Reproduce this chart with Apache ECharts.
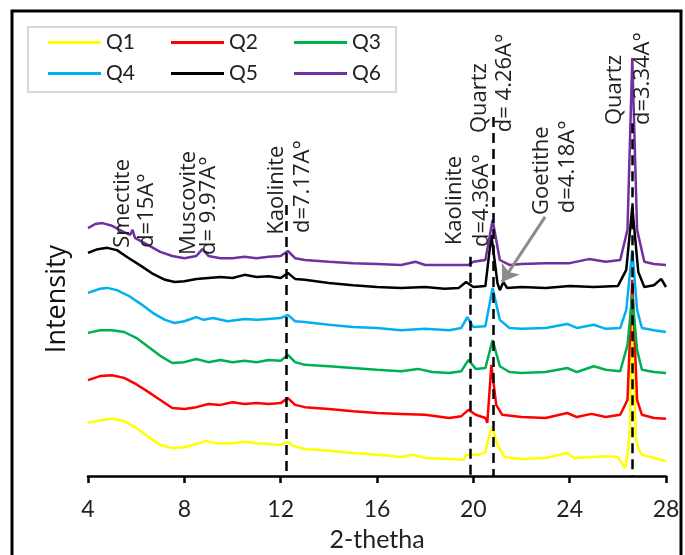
<!DOCTYPE html>
<html>
<head>
<meta charset="utf-8">
<script src="https://cdn.jsdelivr.net/npm/echarts@6/dist/echarts.min.js"></script>
<style>html,body{margin:0;padding:0;background:#fff;}#c{width:685px;height:555px;}</style>
</head>
<body>
<div id="c"></div>
<script>
var xTicks = [4, 8, 12, 16, 20, 24, 28];
var seriesNames = ['Q1', 'Q2', 'Q3', 'Q4', 'Q5', 'Q6'];
var seriesColors = ['#FFFF00', '#FF0000', '#00B050', '#00B0F0', '#000000', '#7030A0'];

var q1 = [[4,11.8],[4.5,12.4],[5,12.7],[5.5,12.2],[6,10.7],[6.5,8.7],[7,6.9],[7.5,6.2],[8,6.4],[8.5,7.1],[8.9,7.8],[9.3,7.3],[10,7.3],[10.5,7.6],[11,7.3],[11.5,7.1],[12,6.9],[12.3,7.6],[12.5,6.7],[13,6.0],[14,5.6],[15,5.1],[16,4.7],[17,4.2],[17.5,4.7],[18,4.0],[19,3.8],[19.6,3.6],[19.7,4.7],[20.2,4.7],[20.5,5.3],[20.7,9.8],[20.8,10.9],[21.0,6.9],[21.3,4.2],[22,3.8],[23,4.0],[23.9,5.1],[24.2,4.0],[25,4.2],[25.5,4.4],[26.0,4.2],[26.3,1.8],[26.4,4.7],[26.5,10],[26.6,39],[26.75,8],[26.85,6.2],[27,4.7],[27.5,4.0],[28,3.3]];
var q2 = [[4,21.3],[4.5,22.2],[5,22.4],[5.5,21.8],[6,20.4],[6.5,18.7],[7,16.9],[7.5,15.1],[8,14.9],[8.5,15.3],[9,16.0],[9.5,15.8],[10,16.4],[10.5,16.0],[11,16.2],[11.5,16.0],[12,16.2],[12.3,17.3],[12.6,15.8],[13,15.3],[14,14.9],[15,14.4],[16,14.0],[17,13.8],[18,13.6],[19,12.9],[19.5,13.3],[19.8,14.7],[20.1,13.6],[20.5,12.9],[20.58,11.8],[20.75,24.7],[20.95,15.8],[21.2,13.6],[22,13.1],[23,12.9],[23.9,14.0],[24.3,13.1],[24.9,13.8],[25.5,13.1],[26.1,13.6],[26.4,16.9],[26.6,43.6],[26.8,16.9],[27,13.6],[27.5,12.9],[28,12.7]];
var q3 = [[4,31.8],[4.5,32.4],[5,32.4],[5.5,32.0],[6,30.7],[6.5,28.7],[7,26.7],[7.5,25.1],[8,25.3],[8.5,26.0],[9,25.3],[9.5,25.8],[10,25.3],[10.5,25.6],[11,25.3],[11.5,25.8],[12,25.6],[12.3,26.9],[12.6,25.3],[13,24.7],[14,24.4],[15,24.0],[16,23.6],[17,23.3],[17.7,23.8],[18.3,23.1],[19,22.9],[19.5,23.3],[19.8,25.8],[20.1,23.8],[20.5,24.0],[20.8,30.2],[21.1,24.4],[21.5,23.1],[22,22.9],[23,23.1],[23.9,24.0],[24.3,23.1],[25,24.4],[25.5,23.6],[26.1,23.3],[26.4,29.1],[26.6,40.2],[26.8,28.0],[27,23.6],[27.5,23.1],[28,22.9]];
var q4 = [[4,40.7],[4.5,41.6],[4.8,41.8],[5.2,41.3],[5.7,40.0],[6.2,38.2],[6.7,36.2],[7.2,34.7],[7.6,34.0],[8,34.4],[8.5,35.3],[8.8,34.7],[9.2,35.1],[9.8,34.4],[10.5,34.9],[11,34.7],[11.5,34.9],[12,35.1],[12.3,35.8],[12.6,34.4],[13,34.2],[14,33.6],[15,33.1],[16,32.9],[17,32.4],[18,32.7],[19,32.4],[19.5,32.9],[19.75,35.3],[20.0,33.1],[20.5,33.3],[20.8,41.8],[21.1,34.7],[21.5,32.9],[22,32.7],[23,32.9],[23.9,33.8],[24.3,32.9],[25,33.6],[25.5,32.7],[26.1,32.9],[26.35,36.9],[26.6,50.2],[26.8,36.9],[27,32.9],[27.5,32.4],[28,32.0]];
var q5 = [[4,49.6],[4.4,50.4],[4.8,50.7],[5.2,50.2],[5.7,48.4],[6.2,46.7],[6.7,44.9],[7.2,43.6],[7.6,43.1],[8,43.3],[8.5,43.8],[9,44.0],[9.5,44.2],[10,44.0],[10.5,44.7],[11,44.2],[11.5,44.4],[12,44.0],[12.3,45.1],[12.6,43.8],[13,43.6],[14,42.9],[15,42.4],[16,42.0],[17,41.8],[18,42.0],[18.8,41.6],[19.4,41.8],[19.7,43.1],[20.0,42.0],[20.5,42.2],[20.75,53.6],[21.0,42.9],[21.1,41.3],[21.25,43.1],[21.4,41.8],[22,42.0],[23,41.8],[24,42.2],[25,42.0],[26.0,42.2],[26.35,45.8],[26.6,59.8],[26.85,45.3],[27.1,42.0],[27.5,42.4],[27.8,43.8],[28,42.0]];
var q6 = [[4,55.1],[4.3,56.0],[4.6,56.2],[5.0,55.6],[5.5,54.2],[5.75,53.6],[5.85,54.7],[5.95,52.9],[6.5,51.3],[7,49.8],[7.5,48.9],[8,48.4],[8.5,48.9],[8.75,50.4],[9.0,48.9],[9.5,48.4],[10,48.4],[10.5,48.7],[11,48.4],[11.5,48.7],[12,48.9],[12.3,50.0],[12.6,48.4],[13,48.0],[14,47.6],[15,47.3],[16,47.1],[17,46.9],[17.6,47.6],[18.0,46.9],[19.8,46.9],[20.0,47.6],[20.5,48.0],[20.8,56.9],[21.1,48.0],[21.5,46.9],[22,47.1],[23,47.3],[24,47.3],[24.8,48.2],[25.5,47.6],[26.1,48.0],[26.4,54.7],[26.6,92.9],[26.8,54.7],[27.1,47.6],[27.5,47.1],[28,46.9]];
var seriesData = [q1, q2, q3, q4, q5, q6];

// dashed reference lines: [x, top value]
var refLines = [[12.25, 60.2], [19.86, 48.7], [20.82, 79.8], [26.6, 78.4]];
// arrow from Goetithe label to peak: [[x1,y1],[x2,y2]]
var arrowLine = [[22.98, 57.6], [21.19, 43.1]];
// annotations: text, x, y (text start, reading upward)
var annoTexts = ['Smectite', 'd=15A°', 'Muscovite', 'd= 9.97A°', 'Kaolinite', 'd=7.17A°', 'Kaolinite', 'd=4.36A°', 'Quartz', 'd= 4.26A°', 'Goetithe', 'd=4.18A°', 'Quartz', 'd=3.34A°'];
var annoX = [5.45, 6.45, 8.19, 9.02, 11.85, 12.93, 19.24, 20.36, 20.28, 21.32, 22.85, 23.93, 25.89, 27.05];
var annoY = [50.7, 50.7, 49.1, 49.1, 53.6, 54.0, 51.3, 50.9, 76.2, 76.4, 58.0, 58.4, 78.0, 78.0];
var yTitle = 'Intensity';

var chart = echarts.init(document.getElementById('c'), null, {renderer: 'canvas'});

var series = seriesNames.map(function (n, i) {
  return {
    name: n, type: 'line', data: seriesData[i], showSymbol: false, symbol: 'none',
    lineStyle: {color: seriesColors[i], width: 2.5}, itemStyle: {color: seriesColors[i]},
    z: 2 + i, silent: true
  };
});
series[5].markLine = {
  silent: true, symbol: ['none', 'none'], label: {show: false}, animation: false, z: 20,
  lineStyle: {color: '#000', width: 2.5, type: [10, 6]},
  data: refLines.map(function (r) { return [{coord: [r[0], r[1]]}, {coord: [r[0], 0]}]; })
};
series[4].markLine = {
  silent: true, symbol: ['none', 'arrow'], symbolSize: 16, label: {show: false}, animation: false, z: 20,
  lineStyle: {color: '#8c8c8c', width: 3, type: 'solid'},
  data: [[{coord: arrowLine[0]}, {coord: arrowLine[1]}]]
};

var narrow = 'Lato, "Liberation Sans", sans-serif';

chart.setOption({
  animation: false,
  backgroundColor: '#fff',
  grid: {left: 88, right: 19, top: 26, bottom: 79, outerBoundsMode: 'none', containLabel: false},
  legend: {
    left: 48, top: 27, width: 380, padding: 0, itemGap: 0,
    itemWidth: 53, itemHeight: 3, icon: 'rect',
    data: seriesNames,
    textStyle: {fontFamily: narrow, fontSize: 21, color: '#222', width: 65, lineHeight: 31}
  },
  xAxis: {
    type: 'value', min: 4, max: 28, interval: 4,
    name: '2-thetha', nameLocation: 'middle', nameGap: 51,
    nameTextStyle: {fontFamily: narrow, fontSize: 25, color: '#222'},
    axisLine: {show: true, lineStyle: {color: '#000', width: 2.5}},
    axisTick: {show: true, length: 7, lineStyle: {color: '#000', width: 2.5}},
    axisLabel: {fontFamily: narrow, fontSize: 23, color: '#222', margin: 22,
      formatter: function (v) { return xTicks.indexOf(v) >= 0 ? String(v) : ''; }},
    splitLine: {show: false}
  },
  yAxis: {
    type: 'value', min: 0, max: 100,
    axisLine: {show: false}, axisTick: {show: false}, axisLabel: {show: false}, splitLine: {show: false}
  },
  series: series
});

var graphics = [
  {type: 'rect', shape: {x: 12, y: 11, width: 669, height: 560}, style: {fill: 'none', stroke: '#000', lineWidth: 3}, silent: true, z: 100},
  {type: 'rect', shape: {x: 28, y: 27, width: 368, height: 65}, style: {fill: 'none', stroke: '#d9d9d9', lineWidth: 2}, silent: true, z: 100},
  {type: 'text', x: 57, y: 299, rotation: Math.PI / 2, silent: true, z: 100,
    style: {text: yTitle, fontFamily: 'Open Sans', fontSize: 27, fill: '#111', align: 'center', verticalAlign: 'middle'}}
];
annoTexts.forEach(function (t, i) {
  var p = chart.convertToPixel({gridIndex: 0}, [annoX[i], annoY[i]]);
  graphics.push({
    type: 'text', x: p[0], y: p[1], rotation: Math.PI / 2, silent: true, z: 100,
    style: {text: t, fontFamily: 'Open Sans', fontSize: 22, fill: '#222', align: 'left', verticalAlign: 'middle'}
  });
});
chart.setOption({graphic: graphics});
</script>
</body>
</html>
